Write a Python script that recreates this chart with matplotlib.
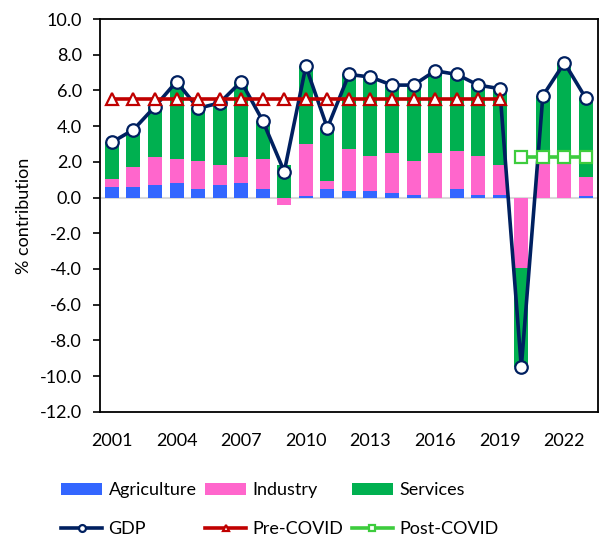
import matplotlib
matplotlib.use("Agg")
import matplotlib.pyplot as plt
import numpy as np

plt.rcParams['font.family'] = ['Lato', 'DejaVu Sans']

years = list(range(2001, 2024))
agriculture = [0.6, 0.6, 0.7, 0.8, 0.5, 0.7, 0.8, 0.5, 0.0, 0.1, 0.5, 0.35,
               0.35, 0.25, 0.15, 0.0, 0.5, 0.15, 0.15, 0.0, 0.0, 0.0, 0.1]
industry = [0.45, 1.1, 1.55, 1.35, 1.55, 1.1, 1.45, 1.65, -0.4, 2.9, 0.45, 2.35,
            2.0, 2.25, 1.9, 2.5, 2.1, 2.2, 1.7, -3.95, 1.95, 1.95, 1.05]
gdp = [3.1, 3.8, 5.1, 6.5, 5.0, 5.3, 6.5, 4.3, 1.45, 7.35, 3.9, 6.9,
       6.75, 6.3, 6.3, 7.1, 6.9, 6.3, 6.1, -9.5, 5.7, 7.55, 5.55]
pre_covid = [5.5] * 19
post_covid = [2.3] * 4
tick_years = [2001, 2004, 2007, 2010, 2013, 2016, 2019, 2022]

# services = remainder so the stack adds up to GDP
services = [g - a - i for g, a, i in zip(gdp, agriculture, industry)]

c_agri = '#3366FF'
c_ind = '#FF66CC'
c_serv = '#00B050'
c_gdp = '#002060'
c_pre = '#C00000'
c_post = '#3DCC3D'

x = np.arange(len(years))
agri = np.array(agriculture)
ind = np.array(industry)
serv = np.array(services)

# stack positives upward, negatives downward
pos_base = np.zeros(len(x))
neg_base = np.zeros(len(x))
bottoms = []
for vals in (agri, ind, serv):
    b = np.where(vals >= 0, pos_base, neg_base)
    bottoms.append(b)
    pos_base = pos_base + np.where(vals >= 0, vals, 0)
    neg_base = neg_base + np.where(vals < 0, vals, 0)

fig = plt.figure(figsize=(5.99, 5.44), dpi=100)
ax = fig.add_axes([0.167, 0.243, 0.831, 0.722])

w = 0.65
b1 = ax.bar(x, agri, w, bottom=bottoms[0], color=c_agri, label='Agriculture', zorder=2)
b2 = ax.bar(x, ind, w, bottom=bottoms[1], color=c_ind, label='Industry', zorder=2)
b3 = ax.bar(x, serv, w, bottom=bottoms[2], color=c_serv, label='Services', zorder=2)

ax.axhline(0, color='#D9D9D9', linewidth=1.5, zorder=1)

l1, = ax.plot(x, gdp, color=c_gdp, linewidth=2.6, marker='o', markersize=9,
              markerfacecolor='white', markeredgecolor=c_gdp, markeredgewidth=1.6,
              label='GDP', zorder=3)
l2, = ax.plot(x[:19], pre_covid, color=c_pre, linewidth=2.6, marker='^', markersize=9,
              markerfacecolor='white', markeredgecolor=c_pre, markeredgewidth=1.6,
              label='Pre-COVID', zorder=4)
l3, = ax.plot(x[19:], post_covid, color=c_post, linewidth=2.6, marker='s', markersize=8.5,
              markerfacecolor='white', markeredgecolor=c_post, markeredgewidth=1.6,
              label='Post-COVID', zorder=4)

ax.set_xlim(-0.55, len(x) - 0.45)
ax.set_ylim(-12, 10)
ax.set_yticks(np.arange(-12, 10.1, 2))
ax.set_yticklabels([f'{v:.1f}' for v in np.arange(-12, 10.1, 2)])
ax.set_xticks([years.index(t) for t in tick_years])
ax.set_xticklabels([str(t) for t in tick_years])
ax.tick_params(axis='x', length=0, pad=15, labelsize=13)
ax.tick_params(axis='y', length=5, width=1.2, pad=8, labelsize=13)
ax.set_ylabel('% contribution', fontsize=13, labelpad=6)

for s in ax.spines.values():
    s.set_linewidth(1.3)
    s.set_color('black')

handles = [b1, l1, b2, l2, b3, l3]
labels = ['Agriculture', 'GDP', 'Industry', 'Pre-COVID', 'Services', 'Post-COVID']
fig.legend(handles, labels, loc='center', bbox_to_anchor=(0.467, 0.063), ncol=3,
           frameon=False, fontsize=13, handlelength=2.3, handleheight=0.6,
           handletextpad=0.35, columnspacing=0.45, labelspacing=1.25, borderpad=0,
           markerscale=0.55)

fig.savefig('out.png', dpi=100)
